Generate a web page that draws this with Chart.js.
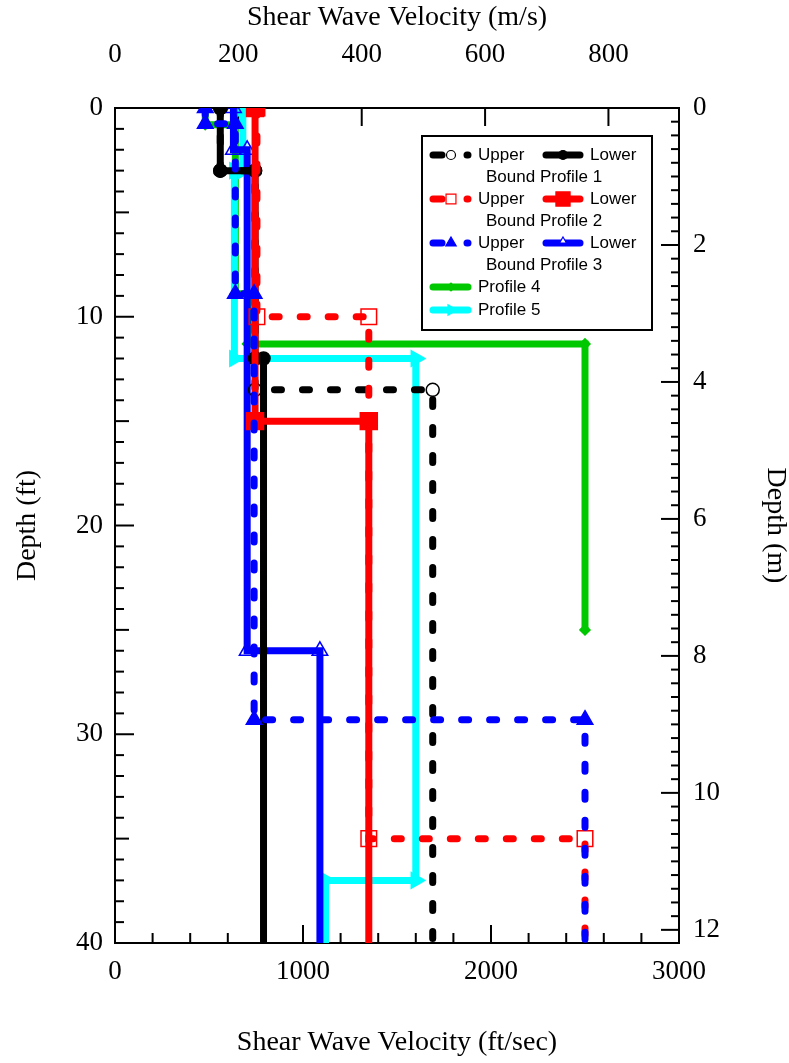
<!DOCTYPE html>
<html>
<head>
<meta charset="utf-8">
<script src="https://cdn.jsdelivr.net/npm/chart.js@4.4.0/dist/chart.umd.min.js"></script>
<style>
html, body { margin: 0; padding: 0; background: #fff; }
canvas { display: block; }
</style>
</head>
<body>
<canvas id="profileChart" width="789" height="1063"></canvas>
<script>
// depth in ft, shear wave velocity in ft/sec
const p1LowerDepth = [0, 3, 3, 12, 12, 40];
const p1LowerVs    = [560, 560, 745, 745, 790, 790];
const p1UpperDepth = [0, 3, 3, 13.5, 13.5, 40];
const p1UpperVs    = [560, 560, 745, 745, 1690, 1690];
const p2LowerDepth = [0, 15, 15, 40];
const p2LowerVs    = [745, 745, 1350, 1350];
const p2UpperDepth = [0, 10, 10, 35, 35, 40];
const p2UpperVs    = [755, 755, 1350, 1350, 2500, 2500];
const p3LowerDepth = [0, 2, 2, 26, 26, 40];
const p3LowerVs    = [630, 630, 703, 703, 1090, 1090];
const p3UpperDepth = [0, 0.75, 0.75, 8.9, 8.9, 29.3, 29.3, 40];
const p3UpperVs    = [480, 480, 640, 640, 740, 740, 2500, 2500];
const p4Depth = [0, 0.8, 0.8, 8.9, 8.9, 11.3, 11.3, 25];
const p4Vs    = [480, 480, 640, 640, 705, 705, 2500, 2500];
const p5Depth = [0, 3, 3, 12, 12, 37, 37, 40];
const p5Vs    = [680, 680, 635, 635, 1600, 1600, 1120, 1120];

const ftTicks = [0, 1000, 2000, 3000];
const msTicks = [0, 200, 400, 600, 800];
const depthFtTicks = [0, 10, 20, 30, 40];
const depthMTicks = [0, 2, 4, 6, 8, 10, 12];
const FT_PER_M = 3.28084;

const tickFont = { family: '"Liberation Serif", "Times New Roman", serif', size: 27 };
const titleFont = { family: '"Liberation Serif", "Times New Roman", serif', size: 28, lineHeight: 1 };

function pts(depth, vs) {
	return vs.map((v, i) => ({ x: v, y: depth[i] }));
}
function series(label, depth, vs, color, extra) {
	return Object.assign({
		label: label,
		data: pts(depth, vs),
		showLine: true,
		borderColor: color,
		backgroundColor: color,
		borderWidth: 7,
		borderCapStyle: 'round',
		borderJoinStyle: 'miter',
		pointBorderColor: color,
		pointBackgroundColor: color,
		pointBorderWidth: 1.5,
		tension: 0
	}, extra);
}
const radius = r => c => (c.raw && c.raw.y >= 40 ? 0 : r);
const dash = [7, 21];
const open = 'rgba(255,255,255,0)';

const datasets = [
	series('Upper Bound Profile 3', p3UpperDepth, p3UpperVs, '#0000ff',
		{ borderDash: dash, pointStyle: 'triangle', pointRadius: radius(9), order: 0 }),
	series('Upper Bound Profile 2', p2UpperDepth, p2UpperVs, '#ff0000',
		{ borderDash: dash, pointStyle: 'rect', pointRadius: radius(11), pointBackgroundColor: open, order: 1 }),
	series('Lower Bound Profile 2', p2LowerDepth, p2LowerVs, '#ff0000',
		{ pointStyle: 'rect', pointRadius: radius(12), order: 2 }),
	series('Lower Bound Profile 1', p1LowerDepth, p1LowerVs, '#000000',
		{ pointStyle: 'circle', pointRadius: radius(6.5), order: 3 }),
	series('Upper Bound Profile 1', p1UpperDepth, p1UpperVs, '#000000',
		{ borderDash: dash, pointStyle: 'circle', pointRadius: radius(6.5), pointBackgroundColor: open, order: 4 }),
	series('Lower Bound Profile 3', p3LowerDepth, p3LowerVs, '#0000ff',
		{ pointStyle: 'triangle', pointRadius: radius(9), pointBackgroundColor: open, order: 5 }),
	series('Profile 5', p5Depth, p5Vs, '#00ffff',
		{ pointStyle: 'triangle', pointRotation: 90, pointRadius: radius(9), order: 6 }),
	series('Profile 4', p4Depth, p4Vs, '#00c800',
		{ pointStyle: 'rectRot', pointRadius: radius(5), order: 7 })
];

const axisFrame = {
	id: 'axisFrame',
	beforeDatasetsDraw(chart) {
		const { ctx, chartArea: a, scales } = chart;
		ctx.save();
		ctx.strokeStyle = '#000';
		ctx.lineWidth = 2;
		ctx.strokeRect(a.left, a.top, a.right - a.left, a.bottom - a.top);
		const tick = (x1, y1, x2, y2) => {
			ctx.beginPath(); ctx.moveTo(x1, y1); ctx.lineTo(x2, y2); ctx.stroke();
		};
		for (let d = 0; d <= 40; d++) {
			const y = scales.y.getPixelForValue(d);
			const len = d % 10 === 0 ? 19 : (d % 5 === 0 ? 14 : 9);
			tick(a.left, y, a.left + len, y);
		}
		for (let i = 0; i <= 60; i++) {
			const y = scales.y2.getPixelForValue(i * 0.2);
			const len = i % 10 === 0 ? 18 : 8;
			tick(a.right - len, y, a.right, y);
		}
		for (let v = 0; v <= 3000; v += 200) {
			const x = scales.x.getPixelForValue(v);
			tick(x, a.bottom, x, a.bottom - (v % 1000 === 0 ? 18 : 10));
		}
		msTicks.forEach(v => {
			const x = scales.x2.getPixelForValue(v);
			tick(x, a.top, x, a.top + 18);
		});
		ctx.restore();
	}
};

// legend box drawn by hand, two entries per row like the original
const legendBox = {
	id: 'legendBox',
	afterDraw(chart) {
		const ctx = chart.ctx;
		const H = Chart.helpers;
		ctx.save();
		ctx.fillStyle = '#fff';
		ctx.fillRect(422, 136, 230, 194);
		ctx.strokeStyle = '#000';
		ctx.lineWidth = 2;
		ctx.strokeRect(422, 136, 230, 194);

		function line(x1, x2, y, color, dashed) {
			ctx.save();
			ctx.strokeStyle = color;
			ctx.lineWidth = 7;
			ctx.lineCap = 'round';
			ctx.setLineDash(dashed ? [9, 25] : []);
			ctx.beginPath(); ctx.moveTo(x1, y); ctx.lineTo(x2, y); ctx.stroke();
			ctx.restore();
		}
		function marker(x, y, color, style, r, filled, rot) {
			ctx.save();
			ctx.strokeStyle = color;
			ctx.fillStyle = filled ? color : '#fff';
			ctx.lineWidth = 1.2;
			H.drawPoint(ctx, { pointStyle: style, radius: r, rotation: rot || 0, borderWidth: 1.2 }, x, y);
			ctx.restore();
		}
		function text(s, x, y) {
			ctx.fillStyle = '#000';
			ctx.font = '17px "Liberation Sans", Arial, sans-serif';
			ctx.textBaseline = 'middle';
			ctx.textAlign = 'left';
			ctx.fillText(s, x, y);
		}
		const rows = [
			{ y: 155, color: '#000000', style: 'circle', up: [4.5, false], low: [4.5, true] },
			{ y: 199, color: '#ff0000', style: 'rect', up: [7, false], low: [10, true] },
			{ y: 243, color: '#0000ff', style: 'triangle', up: [6, true], low: [4, false] }
		];
		rows.forEach((r, i) => {
			line(433, 468, r.y, r.color, true);
			marker(451, r.y, r.color, r.style, r.up[0], r.up[1]);
			text('Upper', 478, r.y);
			line(546, 580, r.y, r.color, false);
			marker(563, r.y - (r.style === 'triangle' ? 2 : 0), r.color, r.style, r.low[0], r.low[1]);
			text('Lower', 590, r.y);
			text('Bound Profile ' + (i + 1), 486, r.y + 22);
		});
		line(433, 468, 287, '#00c800', false);
		marker(451, 287, '#00c800', 'rectRot', 4, true);
		text('Profile 4', 478, 287);
		line(433, 468, 310, '#00ffff', false);
		marker(451, 310, '#00ffff', 'triangle', 6, true, 90);
		text('Profile 5', 478, 310);
		ctx.restore();
	}
};

const fixed = size => (scale => {
	if (scale.isHorizontal()) scale.height = size; else scale.width = size;
});
const setTicks = list => (scale => { scale.ticks = list.map(v => ({ value: v })); });
const axisBase = (extra) => Object.assign({
	type: 'linear',
	grid: { display: false, drawTicks: false },
	border: { display: false }
}, extra);

new Chart(document.getElementById('profileChart'), {
	type: 'scatter',
	data: { datasets: datasets },
	options: {
		responsive: false,
		animation: false,
		devicePixelRatio: 1,
		layout: { padding: 0 },
		plugins: { legend: { display: false }, tooltip: { enabled: false } },
		scales: {
			x: axisBase({
				position: 'bottom', min: 0, max: 3000,
				afterBuildTicks: setTicks(ftTicks), afterFit: fixed(120),
				ticks: { padding: 13, font: tickFont, color: '#000', maxRotation: 0, autoSkip: false, callback: v => String(v) },
				title: { display: true, text: 'Shear Wave Velocity (ft/sec)', font: titleFont, color: '#000', padding: { top: 0, bottom: 6 } }
			}),
			x2: axisBase({
				position: 'top', min: 0, max: 3000 / FT_PER_M,
				afterBuildTicks: setTicks(msTicks), afterFit: fixed(108),
				ticks: { padding: 37, font: tickFont, color: '#000', maxRotation: 0, autoSkip: false, callback: v => String(v) },
				title: { display: true, text: 'Shear Wave Velocity (m/s)', font: titleFont, color: '#000', padding: { top: 4, bottom: 0 } }
			}),
			y: axisBase({
				position: 'left', reverse: true, min: 0, max: 40,
				afterBuildTicks: setTicks(depthFtTicks), afterFit: fixed(115),
				ticks: { padding: 12, font: tickFont, color: '#000', autoSkip: false, callback: v => String(v) },
				title: { display: true, text: 'Depth (ft)', font: titleFont, color: '#000', padding: { top: 14, bottom: 0 } }
			}),
			y2: axisBase({
				position: 'right', reverse: true, min: 0, max: 40 / FT_PER_M,
				afterBuildTicks: setTicks(depthMTicks), afterFit: fixed(110),
				ticks: { padding: 14, font: tickFont, color: '#000', autoSkip: false, callback: v => String(v) },
				title: { display: true, text: 'Depth (m)', font: titleFont, color: '#000', padding: { top: 0, bottom: 0 } }
			})
		}
	},
	plugins: [axisFrame, legendBox]
});
</script>
</body>
</html>
